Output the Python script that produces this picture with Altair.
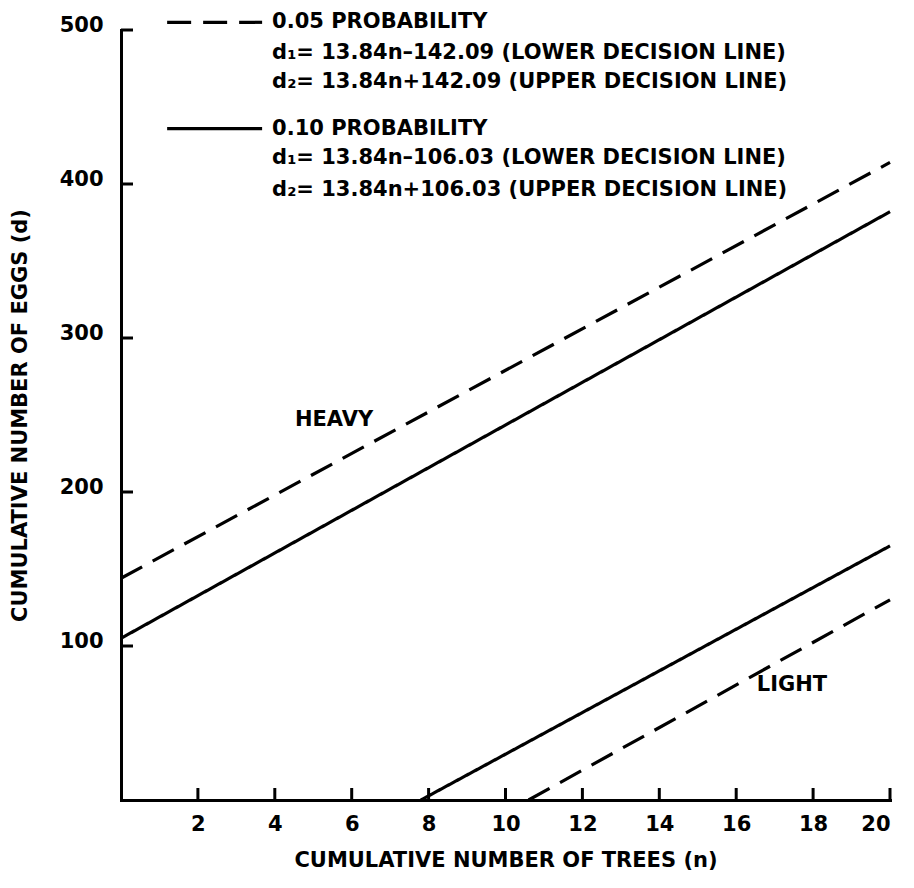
import altair as alt
import pandas as pd

# ---- data ----
# decision lines: endpoints (cumulative trees n, cumulative eggs d)
upper_05_n = [0, 20]
upper_05_d = [144, 414]
lower_05_n = [10.6, 20]
lower_05_d = [0, 130]
upper_10_n = [0, 20]
upper_10_d = [105, 382]
lower_10_n = [7.8, 20]
lower_10_d = [0, 165]

x_ticks = [2, 4, 6, 8, 10, 12, 14, 16, 18, 20]
y_ticks = [100, 200, 300, 400, 500]

legend_texts = [
    "0.05 PROBABILITY",
    "d\u2081= 13.84n\u2013142.09 (LOWER DECISION LINE)",
    "d\u2082= 13.84n+142.09 (UPPER DECISION LINE)",
    "0.10 PROBABILITY",
    "d\u2081= 13.84n\u2013106.03 (LOWER DECISION LINE)",
    "d\u2082= 13.84n+106.03 (UPPER DECISION LINE)",
]
legend_text_n = [3.93] * 6
legend_text_d = [505, 485, 466, 436, 417, 396]

legend_sample_prob = ["0.05", "0.10"]
legend_sample_n = [1.2, 1.2]
legend_sample_n2 = [3.67, 3.67]
legend_sample_d = [505, 436]

region_labels = ["HEAVY", "LIGHT"]
region_n = [5.54, 17.45]
region_d = [247, 75]

# ---- tables ----
rows = []
for name, prob, ns, ds in [
    ("upper_05", "0.05", upper_05_n, upper_05_d),
    ("lower_05", "0.05", lower_05_n, lower_05_d),
    ("upper_10", "0.10", upper_10_n, upper_10_d),
    ("lower_10", "0.10", lower_10_n, lower_10_d),
]:
    for n, d in zip(ns, ds):
        rows.append({"line": name, "prob": prob, "n": n, "d": d})
lines_df = pd.DataFrame(rows)

legend_df = pd.DataFrame({"n": legend_text_n, "d": legend_text_d, "text": legend_texts})
sample_df = pd.DataFrame({"prob": legend_sample_prob, "n": legend_sample_n,
                          "n2": legend_sample_n2, "d": legend_sample_d})
region_df = pd.DataFrame({"n": region_n, "d": region_d, "text": region_labels})
xt_df = pd.DataFrame({"n": x_ticks})
yt_df = pd.DataFrame({"d": y_ticks})

FONT = "DejaVu Sans"
FS = 21
W, H = 769, 770

xscale = alt.Scale(domain=[0, 20], nice=False, zero=False)
yscale = alt.Scale(domain=[0, 500], nice=False, zero=False)

xaxis = alt.Axis(values=x_ticks, ticks=False, grid=False, domainColor="black",
                 domainWidth=3, domainCap="square", labelFont=FONT, labelFontSize=FS,
                 labelFontWeight="bold", labelColor="black", labelPadding=13,
                 title="CUMULATIVE NUMBER OF TREES (n)", titleFont=FONT,
                 titleFontSize=FS, titleFontWeight="bold", titleColor="black",
                 titleY=60, titleBaseline="middle")
yaxis = alt.Axis(values=y_ticks, ticks=False, grid=False, domainColor="black",
                 domainWidth=3, domainCap="square", labelFont=FONT, labelFontSize=FS,
                 labelFontWeight="bold", labelColor="black", labelPadding=18,
                 labelOffset=-5,
                 title="CUMULATIVE NUMBER OF EGGS (d)", titleFont=FONT,
                 titleFontSize=FS, titleFontWeight="bold", titleColor="black",
                 titleX=-101, titleY=H / 2, titleAngle=270, titleAlign="center",
                 titleBaseline="middle")

X = alt.X("n:Q", scale=xscale, axis=xaxis)
Y = alt.Y("d:Q", scale=yscale, axis=yaxis)

dash_scale = alt.Scale(domain=["0.05", "0.10"], range=[[24, 12], [1, 0]])

lines = alt.Chart(lines_df).mark_line(color="black", strokeWidth=3.2).encode(
    x=X, y=Y, detail="line:N",
    strokeDash=alt.StrokeDash("prob:N", scale=dash_scale, legend=None),
)

samples = alt.Chart(sample_df).mark_rule(color="black", strokeWidth=3.2).encode(
    x=X, x2="n2:Q", y=Y,
    strokeDash=alt.StrokeDash("prob:N", scale=dash_scale, legend=None),
)

legend_text = alt.Chart(legend_df).mark_text(
    align="left", baseline="middle", font=FONT, fontSize=FS, fontWeight="bold",
    color="black").encode(x=X, y=Y, text="text:N")

region_text = alt.Chart(region_df).mark_text(
    align="center", baseline="middle", font=FONT, fontSize=FS, fontWeight="bold",
    color="black").encode(x=X, y=Y, text="text:N")

xticks = alt.Chart(xt_df).mark_rule(color="black", strokeWidth=3).encode(
    x=X, y=alt.value(H), y2=alt.value(H - 12))
yticks = alt.Chart(yt_df).mark_rule(color="black", strokeWidth=3).encode(
    y=Y, x=alt.value(0), x2=alt.value(12))

chart = alt.layer(lines, samples, legend_text, region_text, xticks, yticks).properties(
    width=W, height=H,
    autosize=alt.AutoSizeParams(type="none"),
    padding={"left": 113, "top": 22, "right": 16, "bottom": 80},
    background="white",
).configure_view(stroke=None)

chart.save("out.html", embed_options={"renderer": "svg", "actions": False})
